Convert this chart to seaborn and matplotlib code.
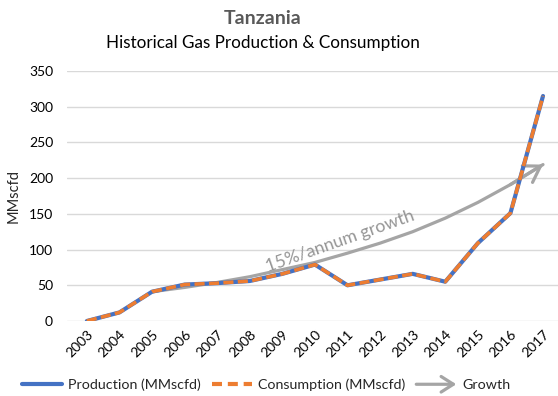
import numpy as np
import pandas as pd
import matplotlib
matplotlib.use("Agg")
import matplotlib.pyplot as plt
import seaborn as sns
from matplotlib.lines import Line2D
from matplotlib.patches import FancyArrowPatch
from matplotlib.legend_handler import HandlerBase

# Annual gas figures, MMscfd
years = ["2003", "2004", "2005", "2006", "2007", "2008", "2009", "2010",
         "2011", "2012", "2013", "2014", "2015", "2016", "2017"]
production = [0, 12, 41, 51, 53, 56, 66, 79, 50, 58, 66, 55, 109, 151, 315]
consumption = [0, 12, 41, 51, 53, 56, 66, 79, 50, 58, 66, 55, 109, 151, 315]
growth_years = ["2005", "2006", "2007", "2008", "2009", "2010", "2011",
                "2012", "2013", "2014", "2015", "2016", "2017"]
growth = [41, 47, 54, 62, 72, 82, 95, 109, 125, 144, 166, 191, 219]
y_ticks = [0, 50, 100, 150, 200, 250, 300, 350]

BLUE = "#4472C4"
ORANGE = "#ED7D31"
GREY = "#A5A5A5"

sns.set_theme(style="white")
plt.rcParams["font.family"] = ["Lato", "DejaVu Sans"]

pos = {y: i for i, y in enumerate(years)}
df = pd.DataFrame({"x": [pos[y] for y in years],
                   "production": production, "consumption": consumption})
gdf = pd.DataFrame({"x": [pos[y] for y in growth_years], "growth": growth})

fig = plt.figure(figsize=(5.58, 3.96), dpi=100)
ax = fig.add_axes([67 / 558, 75 / 396, 491 / 558, 250 / 396])

# growth trend with arrowhead
sns.lineplot(data=gdf, x="x", y="growth", ax=ax, color=GREY, lw=2.3, zorder=2)
ax.annotate("", xy=(gdf.x.iloc[-1], growth[-1]),
            xytext=(gdf.x.iloc[-2], growth[-2]),
            arrowprops=dict(arrowstyle="->,head_length=0.55,head_width=0.35",
                            color=GREY, lw=2.3, shrinkA=0, shrinkB=0,
                            mutation_scale=20), zorder=2)
ax.text(5.56, 68.5, "15%/annum growth", rotation=19.5, rotation_mode="anchor",
        ha="left", va="baseline", fontsize=12.8, color="#959595", zorder=1)

sns.lineplot(data=df, x="x", y="production", ax=ax, color=BLUE, lw=3.0,
             zorder=3)
sns.lineplot(data=df, x="x", y="consumption", ax=ax, color=ORANGE, lw=2.6,
             zorder=4).lines[-1].set_dashes([2.8, 1.2])

ax.set_xlim(-0.61, 14.46)
ax.set_ylim(0, 350)
ax.set_yticks(y_ticks)
ax.set_xticks(range(len(years)))
ax.set_xticklabels(years, rotation=45, ha="right", rotation_mode="anchor")
ax.tick_params(axis="both", length=0, labelsize=10, colors="#000000")
ax.tick_params(axis="y", pad=10)
ax.tick_params(axis="x", pad=5)
ax.grid(axis="y", color="#d9d9d9", lw=1)
ax.set_axisbelow(True)
for s in ax.spines.values():
    s.set_visible(False)
ax.set_xlabel("")
ax.set_ylabel("MMscfd", fontsize=10.5, labelpad=6)

fig.text(263 / 558, 1 - 18 / 396, "Tanzania", ha="center", va="center",
         fontsize=14, fontweight="bold", color="#595959")
fig.text(263 / 558, 1 - 43 / 396, "Historical Gas Production & Consumption",
         ha="center", va="center", fontsize=12.3, color="#000000")


class ArrowHandler(HandlerBase):
    def create_artists(self, legend, orig_handle, xdescent, ydescent, width,
                       height, fontsize, trans):
        y = height / 2 - ydescent
        a = FancyArrowPatch((-xdescent, y), (width - xdescent, y),
                            arrowstyle="->,head_length=0.55,head_width=0.35",
                            mutation_scale=16, color=GREY, lw=2.3,
                            shrinkA=0, shrinkB=0)
        a.set_transform(trans)
        return [a]


h_prod = Line2D([], [], color=BLUE, lw=3)
h_cons = Line2D([], [], color=ORANGE, lw=3, dashes=[2.4, 1.4])
h_grow = Line2D([], [], color=GREY, lw=2.3)
fig.legend([h_prod, h_cons, h_grow],
           ["Production (MMscfd)", "Consumption (MMscfd)", "Growth"],
           handler_map={h_grow: ArrowHandler()},
           loc="center", bbox_to_anchor=(266 / 558, 1 - 385 / 396), ncol=3,
           frameon=False, fontsize=10.3, handlelength=2.8, handletextpad=0.4,
           columnspacing=0.8)

fig.savefig("out.png", dpi=100)
